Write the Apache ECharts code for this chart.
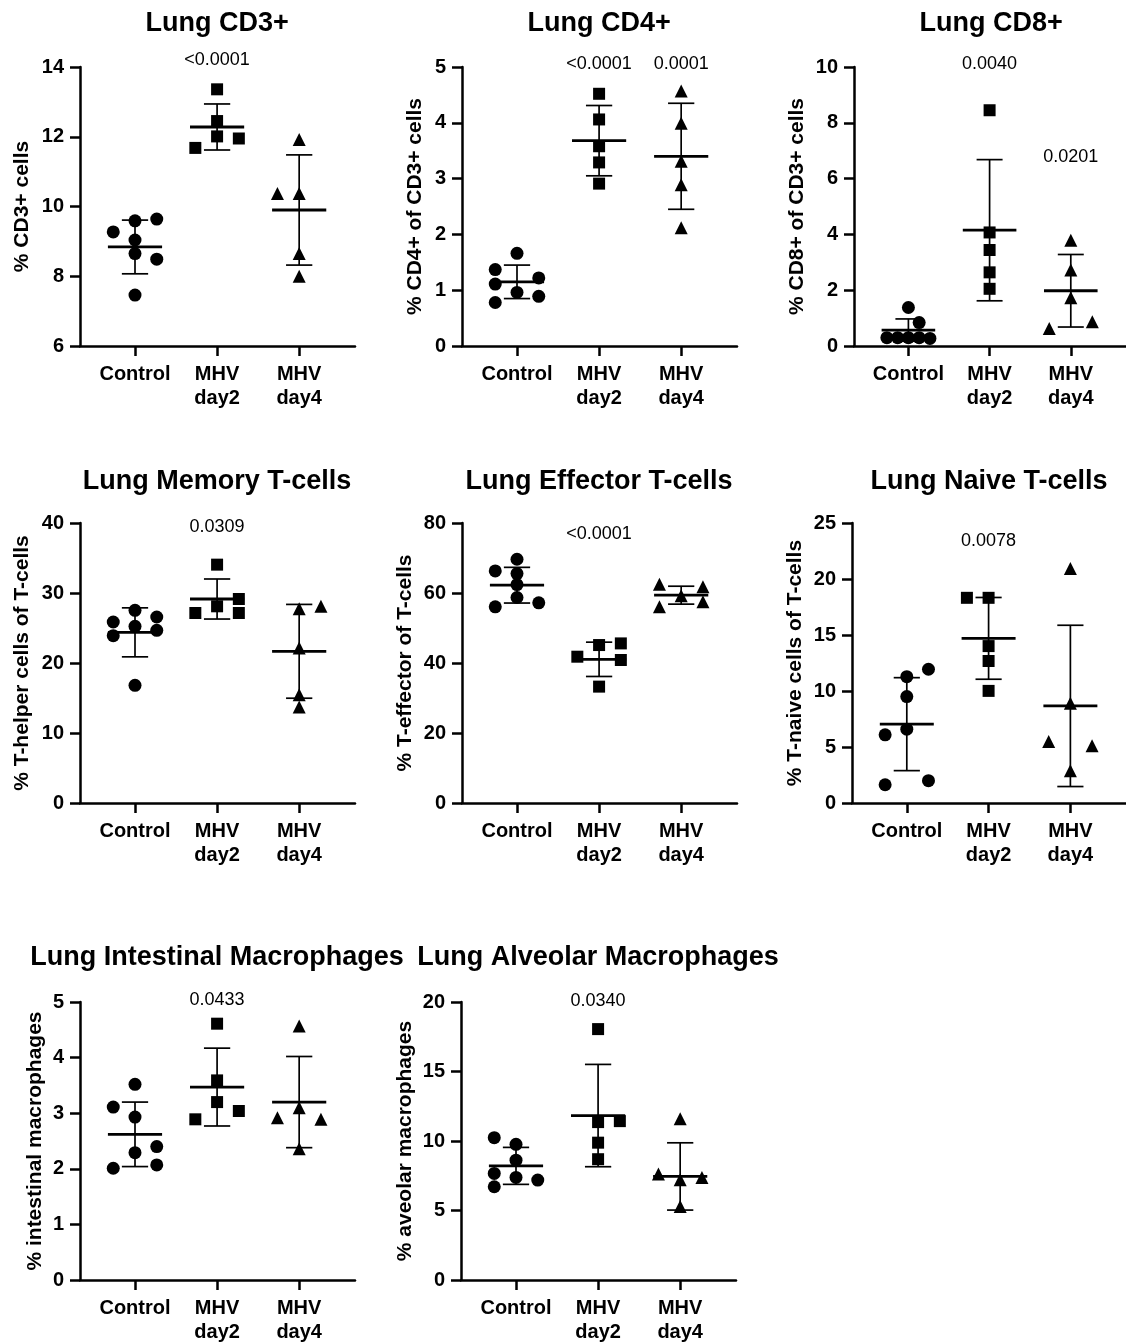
<!DOCTYPE html>
<html>
<head>
<meta charset="utf-8">
<script src="https://cdn.jsdelivr.net/npm/echarts@6/dist/echarts.min.js"></script>
<style>
  body { margin: 0; background: #fff; }
  #main { width: 1126px; height: 1344px; }
</style>
</head>
<body>
<div id="main"></div>
<script>
const groupNames = ['Control', 'MHV\nday2', 'MHV\nday4'];
const symbols = ['circle', 'rect', 'triangle'];

// Lung CD3+
const cd3Control = [9.27, 9.59, 9.64, 9.04, 8.65, 8.49, 7.46];
const cd3Day2 = [13.36, 12.45, 12.01, 11.95, 11.68];
const cd3Day4 = [11.92, 10.37, 10.37, 8.65, 8.0];
const cd3Lanes = [[-1, 0, 1, 0, 0, 1, 0], [0, 0, 0, 1, -1], [0, -1, 0, 0, 0]];
const cd3Mean = [8.84, 12.28, 9.9];
const cd3Sd = [0.77, 0.66, 1.58];
const cd3P = [[1, 14.2, '<0.0001']];

// Lung CD4+
const cd4Control = [1.66, 1.37, 1.22, 1.11, 0.96, 0.89, 0.78];
const cd4Day2 = [4.52, 4.06, 3.58, 3.29, 2.91];
const cd4Day4 = [4.57, 3.99, 3.31, 2.89, 2.12];
const cd4Lanes = [[0, -1, 1, -1, 0, 1, -1], [0, 0, 0, 0, 0], [0, 0, 0, 0, 0]];
const cd4Mean = [1.15, 3.68, 3.40];
const cd4Sd = [0.30, 0.63, 0.95];
const cd4P = [[1, 5.05, '<0.0001'], [2, 5.05, '0.0001']];

// Lung CD8+
const cd8Control = [1.38, 0.84, 0.30, 0.30, 0.30, 0.30, 0.27];
const cd8Day2 = [8.45, 4.07, 3.44, 2.64, 2.05];
const cd8Day4 = [3.79, 2.72, 1.73, 0.63, 0.87];
const cd8Lanes = [[0, 0.5, -1, -0.5, 0, 0.5, 1], [0, 0, 0, 0, 0], [0, 0, 0, -1, 1]];
const cd8Mean = [0.57, 4.15, 1.98];
const cd8Sd = [0.40, 2.53, 1.30];
const cd8P = [[1, 10.1, '0.0040'], [2, 6.77, '0.0201']];

// Lung Memory T-cells
const memControl = [25.86, 27.52, 26.57, 25.24, 23.9, 24.67, 16.81];
const memDay2 = [34.05, 28.1, 29.14, 27.14, 27.14];
const memDay4 = [28.1, 27.76, 22.14, 15.48, 13.71];
const memLanes = [[-1, 0, 1, 0, -1, 1, 0], [0, 0, 1, -1, 1], [1, 0, 0, 0, 0]];
const memMean = [24.38, 29.14, 21.67];
const memSd = [3.5, 2.86, 6.7];
const memP = [[1, 39.4, '0.0309']];

// Lung Effector T-cells
const effControl = [69.64, 66.32, 65.56, 62.42, 58.72, 56.06, 57.2];
const effDay2 = [45.13, 45.6, 41.8, 40.86, 33.25];
const effDay4 = [62.52, 61.76, 59.19, 56.06, 57.48];
const effLanes = [[0, -1, 0, 0, 0, -1, 1], [0, 1, -1, 1, 0], [-1, 1, 0, -1, 1]];
const effMean = [62.23, 41.05, 59.38];
const effSd = [5.1, 4.9, 2.56];
const effP = [[1, 76.9, '<0.0001']];

// Lung Naive T-cells
const naiControl = [11.94, 11.28, 9.5, 6.59, 6.09, 1.99, 1.63];
const naiDay2 = [18.32, 18.32, 14.01, 12.68, 10.01];
const naiDay4 = [20.93, 8.9, 5.49, 5.11, 2.88];
const naiLanes = [[1, 0, 0, 0, -1, 1, -1], [-1, 0, 0, 0, 0], [0, 0, -1, 1, 0]];
const naiMean = [7.04, 14.7, 8.67];
const naiSd = [4.15, 3.65, 7.2];
const naiP = [[1, 23.4, '0.0078']];

// Lung Intestinal Macrophages
const intControl = [3.52, 3.11, 2.93, 2.40, 2.29, 2.07, 2.01];
const intDay2 = [4.61, 3.59, 3.2, 3.04, 2.89];
const intDay4 = [4.57, 3.1, 2.92, 2.89, 2.36];
const intLanes = [[0, -1, 0, 1, 0, 1, -1], [0, 0, 0, 1, -1], [0, 0, -1, 1, 0]];
const intMean = [2.62, 3.47, 3.2];
const intSd = [0.58, 0.7, 0.82];
const intP = [[1, 5.04, '0.0433']];

// Lung Alveolar Macrophages
const alvControl = [10.24, 9.76, 8.62, 7.67, 7.38, 7.19, 6.71];
const alvDay2 = [18.05, 11.36, 11.43, 9.88, 8.69];
const alvDay4 = [11.6, 7.62, 7.21, 7.38, 5.29];
const alvLanes = [[-1, 0, 0, -1, 0, 1, -1], [0, 0, 1, 0, 0], [0, -1, 0, 1, 0]];
const alvMean = [8.21, 11.83, 7.45];
const alvSd = [1.33, 3.68, 2.42];
const alvP = [[1, 20.1, '0.0340']];

const panels = [
  { title: 'Lung CD3+', yName: '% CD3+ cells', min: 6, max: 14, step: 2,
    groups: [cd3Control, cd3Day2, cd3Day4], lanes: cd3Lanes, mean: cd3Mean, sd: cd3Sd, p: cd3P },
  { title: 'Lung CD4+', yName: '% CD4+ of CD3+ cells', min: 0, max: 5, step: 1,
    groups: [cd4Control, cd4Day2, cd4Day4], lanes: cd4Lanes, mean: cd4Mean, sd: cd4Sd, p: cd4P },
  { title: 'Lung CD8+', yName: '% CD8+ of CD3+ cells', min: 0, max: 10, step: 2,
    groups: [cd8Control, cd8Day2, cd8Day4], lanes: cd8Lanes, mean: cd8Mean, sd: cd8Sd, p: cd8P },
  { title: 'Lung Memory T-cells', yName: '% T-helper cells of T-cells', min: 0, max: 40, step: 10,
    groups: [memControl, memDay2, memDay4], lanes: memLanes, mean: memMean, sd: memSd, p: memP },
  { title: 'Lung Effector T-cells', yName: '% T-effector of T-cells', min: 0, max: 80, step: 20,
    groups: [effControl, effDay2, effDay4], lanes: effLanes, mean: effMean, sd: effSd, p: effP },
  { title: 'Lung Naive T-cells', yName: '% T-naive cells of T-cells', min: 0, max: 25, step: 5,
    groups: [naiControl, naiDay2, naiDay4], lanes: naiLanes, mean: naiMean, sd: naiSd, p: naiP },
  { title: 'Lung Intestinal Macrophages', yName: '% intestinal macrophages', min: 0, max: 5, step: 1,
    groups: [intControl, intDay2, intDay4], lanes: intLanes, mean: intMean, sd: intSd, p: intP },
  { title: 'Lung Alveolar Macrophages', yName: '% aveolar macrophages', min: 0, max: 20, step: 5,
    groups: [alvControl, alvDay2, alvDay4], lanes: alvLanes, mean: alvMean, sd: alvSd, p: alvP }
];

// grid placement (left, top, height) and y name gap per panel
const layout = [
  [80, 67, 279, 47], [462, 67, 279, 36], [854, 67, 279, 46],
  [80, 523, 280, 47], [462, 523, 280, 46], [852, 523, 280, 46],
  [80, 1002, 280, 34], [461, 1002, 280, 45]
];

const font = 'Liberation Sans, Arial, sans-serif';
const laneStep = 0.265;
const xMin = -0.67, xMax = 2.68, gridW = 275;

let chart = echarts.init(document.getElementById('main'));
let titles = [], grids = [], xAxes = [], yAxes = [], series = [];

panels.forEach(function (pn, i) {
  const [left, top, h, gap] = layout[i];
  grids.push({ left: left, top: top, width: gridW, height: h });
  titles.push({
    text: pn.title,
    left: left + (1 - xMin) * gridW / (xMax - xMin),
    top: top - (i < 3 ? 57 : (i < 6 ? 55 : 58)),
    textAlign: 'center',
    padding: 0,
    textStyle: { fontFamily: font, fontSize: 27, fontWeight: 'bold', color: '#000' }
  });
  xAxes.push({
    gridIndex: i, type: 'value', min: xMin, max: xMax,
    splitLine: { show: false },
    axisLine: { show: true, onZero: false, lineStyle: { color: '#000', width: 2.5 } },
    axisTick: { show: true, customValues: [0, 1, 2], length: 10, lineStyle: { color: '#000', width: 2.5 } },
    axisLabel: {
      show: true, customValues: [0, 1, 2], margin: 16,
      formatter: function (v) { return groupNames[Math.round(v)]; },
      fontFamily: font, fontSize: 20, fontWeight: 'bold', color: '#000', lineHeight: 24
    }
  });
  yAxes.push({
    gridIndex: i, type: 'value', min: pn.min, max: pn.max, interval: pn.step,
    name: pn.yName, nameLocation: 'middle', nameRotate: 90, nameGap: gap,
    nameTextStyle: { fontFamily: font, fontSize: 21, fontWeight: 'bold', color: '#000' },
    splitLine: { show: false },
    axisLine: { show: true, onZero: false, lineStyle: { color: '#000', width: 2.5 } },
    axisTick: { show: true, length: 10, lineStyle: { color: '#000', width: 2.5 } },
    axisLabel: { margin: 16, fontFamily: font, fontSize: 20, fontWeight: 'bold', color: '#000' }
  });

  pn.groups.forEach(function (vals, g) {
    series.push({
      type: 'scatter', xAxisIndex: i, yAxisIndex: i,
      symbol: symbols[g], symbolSize: g === 1 ? 12 : 13,
      itemStyle: { color: '#000', opacity: 1 },
      clip: false,
      data: vals.map(function (v, k) { return [g + pn.lanes[g][k] * laneStep, v]; }),
      z: 2
    });
  });

  series.push({
    type: 'custom', xAxisIndex: i, yAxisIndex: i, z: 3,
    data: pn.mean.map(function (m, g) { return [g, m, pn.sd[g]]; }),
    renderItem: function (params, api) {
      const c = api.value(0), m = api.value(1), s = api.value(2);
      const ml = api.coord([c - 0.33, m]), mr = api.coord([c + 0.33, m]);
      const top = api.coord([c, m + s]), bot = api.coord([c, m - s]);
      const capL = api.coord([c - 0.16, 0])[0], capR = api.coord([c + 0.16, 0])[0];
      const st = { stroke: '#000', lineWidth: 1.7 };
      return {
        type: 'group',
        children: [
          { type: 'line', shape: { x1: top[0], y1: top[1], x2: bot[0], y2: bot[1] }, style: st },
          { type: 'line', shape: { x1: capL, y1: top[1], x2: capR, y2: top[1] }, style: st },
          { type: 'line', shape: { x1: capL, y1: bot[1], x2: capR, y2: bot[1] }, style: st },
          { type: 'line', shape: { x1: ml[0], y1: ml[1], x2: mr[0], y2: mr[1] },
            style: { stroke: '#000', lineWidth: 2.8 } }
        ]
      };
    }
  });

  series.push({
    type: 'scatter', xAxisIndex: i, yAxisIndex: i,
    symbolSize: 0, clip: false, silent: true,
    itemStyle: { opacity: 1 },
    data: pn.p,
    label: {
      show: true, position: 'inside',
      formatter: function (p) { return p.value[2]; },
      fontFamily: font, fontSize: 18, color: '#000', opacity: 1
    }
  });
});

let option = {
  animation: false,
  backgroundColor: '#fff',
  title: titles,
  grid: grids,
  xAxis: xAxes,
  yAxis: yAxes,
  series: series
};

option && chart.setOption(option);
</script>
</body>
</html>
